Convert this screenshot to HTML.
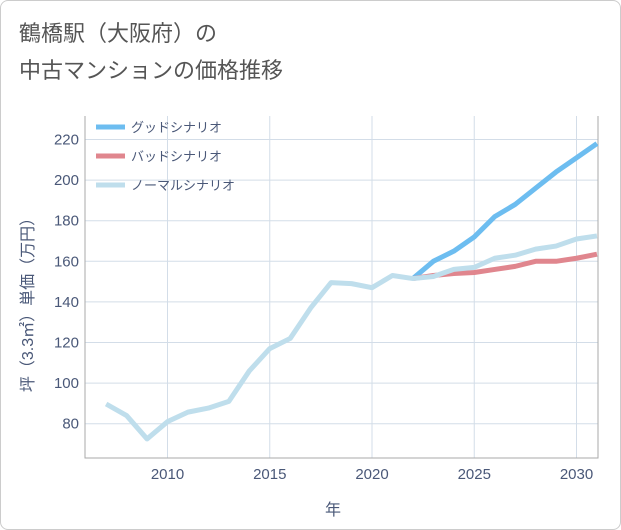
<!DOCTYPE html>
<html><head><meta charset="utf-8"><style>
body{margin:0;background:#fff;}
#wrap{position:relative;width:619px;height:528px;border:1px solid #ccc;border-radius:8px;background:#fff;overflow:hidden;font-family:"Liberation Sans","Noto Sans CJK JP",sans-serif;}
#title{position:absolute;left:18px;top:14px;font-size:22px;line-height:37px;color:#555;}
svg{position:absolute;left:0;top:0;}
text{font-family:"Liberation Sans","Noto Sans CJK JP",sans-serif;}
</style></head><body>
<div id="wrap">
<div id="title">鶴橋駅（大阪府）の<br>中古マンションの価格推移</div>
<svg id="chart" width="621" height="530"></svg>
</div>
<script>
const years=[2007,2008,2009,2010,2011,2012,2013,2014,2015,2016,2017,2018,2019,2020,2021,2022,2023,2024,2025,2026,2027,2028,2029,2030,2031];
const normalVals=[89.7,84,72.5,81,85.7,87.7,91,106,117,122,137,149.5,149,147,153,151.5,152.5,156,157,161.5,163,166,167.5,171,172.5];
const forecastYears=[2022,2023,2024,2025,2026,2027,2028,2029,2030,2031];
const goodVals=[151.5,160,165,172,182,188,196,204,211,218];
const badVals=[151.5,153,154,154.5,156,157.5,160,160,161.5,163.5];
const xTicks=[2010,2015,2020,2025,2030];
const yTicks=[80,100,120,140,160,180,200,220];
const L=84,R=597,T=115,B=457;
const X=y=>371+(y-2020)*20.45;
const Y=v=>422.7-(v-80)*2.03;
const svg=document.getElementById('chart');
const NS='http://www.w3.org/2000/svg';
function mk(t,a){const e=document.createElementNS(NS,t);for(const k in a)e.setAttribute(k,a[k]);svg.appendChild(e);return e;}
xTicks.forEach(t=>{
 const g=mk('line',{x1:X(t),x2:X(t),y1:T,y2:B,stroke:'#d3dde8','stroke-width':1});
 
 
 const l=mk('text',{x:X(t),y:478,'text-anchor':'middle','font-size':15,fill:'#4a5878'});l.textContent=t;
 
 
});
yTicks.forEach(t=>{
 const g=mk('line',{x1:L,x2:R,y1:Y(t),y2:Y(t),stroke:'#d3dde8','stroke-width':1});
 
 
 const l=mk('text',{x:78,y:Y(t)+5,'text-anchor':'end','font-size':15,fill:'#4a5878'});l.textContent=t;
 
 
});
const ax=mk('polyline',{points:`${L},${T} ${L},${B} ${R},${B} ${R},${T}`,fill:'none',stroke:'#aaa','stroke-width':1});


function line(xs,vs,c,n){const p=mk('polyline',{points:xs.map((x,i)=>X(x)+','+Y(vs[i])).join(' '),fill:'none',stroke:c,'stroke-width':5,'stroke-linejoin':'round'});
 
 }
line(forecastYears,goodVals,'#6dbdf0','good-scenario-line');
line(forecastYears,badVals,'#e0868e','bad-scenario-line');
line(years,normalVals,'#bfdeec','normal-scenario-line');
const leg=[['グッドシナリオ','#6dbdf0'],['バッドシナリオ','#e0868e'],['ノーマルシナリオ','#bfdeec']];
leg.forEach((d,i)=>{const y=126+i*29;
 const s=mk('line',{x1:95,x2:124,y1:y,y2:y,stroke:d[1],'stroke-width':5});
 
 
 const t=mk('text',{x:130,y:y+5,'font-size':13,fill:'#4a5878'});t.textContent=d[0];
 
 
});
const xt=mk('text',{x:332,y:514,'text-anchor':'middle','font-size':16,fill:'#4a5878'});xt.textContent='年';


const yt=mk('text',{x:0,y:0,'text-anchor':'middle','font-size':16,fill:'#4a5878',transform:'translate(32,300) rotate(-90)'});yt.textContent='坪（3.3㎡）単価（万円）';


</script>
</body></html>
